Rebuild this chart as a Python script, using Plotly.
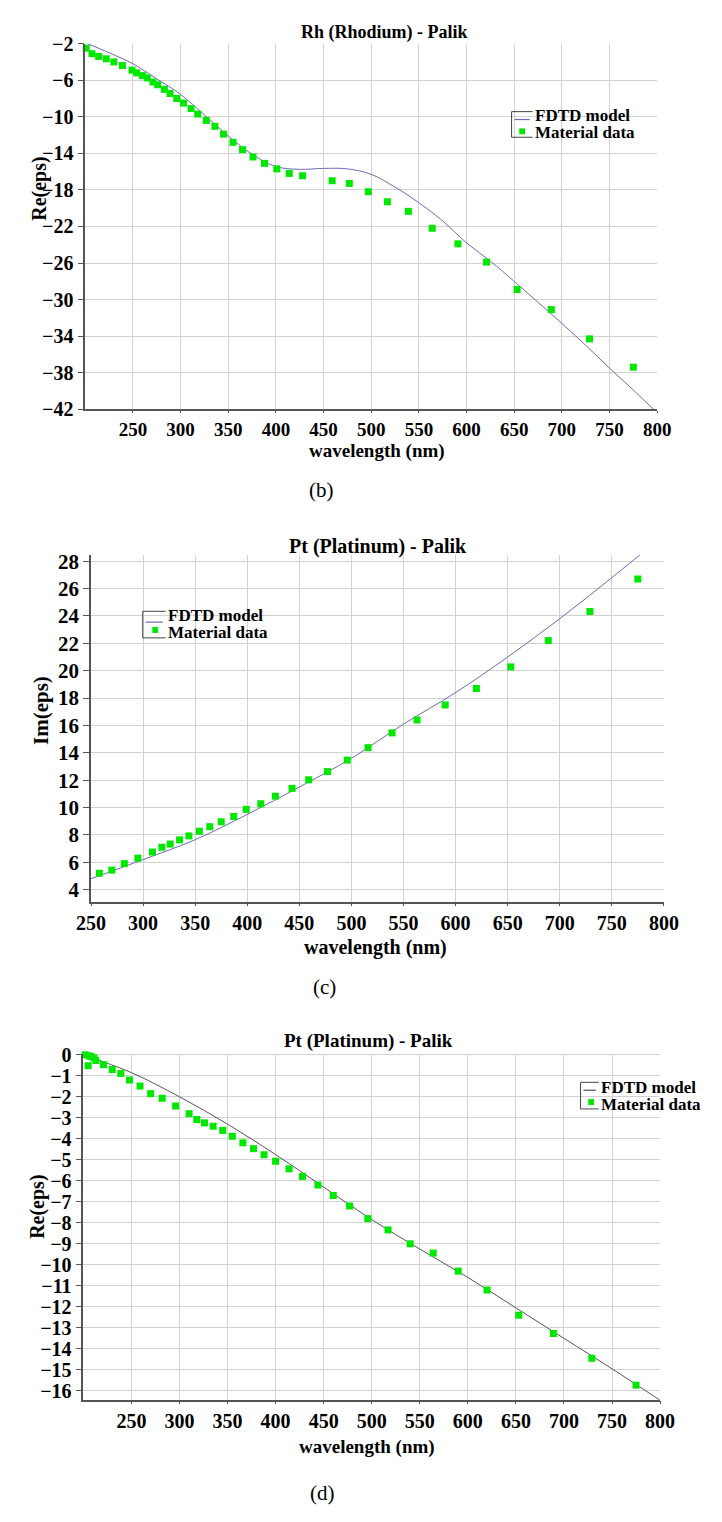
import plotly.graph_objects as go

# (b) Rh (Rhodium) - Palik, Re(eps)
rh_wl = [201, 207, 214, 222, 230, 239, 249, 254, 260, 265, 271, 276, 283, 289, 296, 303, 311, 318, 327, 336,
         345, 355, 365, 376, 388, 401, 414, 428, 459, 477, 497, 517, 539, 564, 591, 621, 653, 689, 729, 775]
rh_re = [-2.5, -3.1, -3.4, -3.66, -4.0, -4.4, -4.9, -5.2, -5.5, -5.75, -6.2, -6.5, -7.0, -7.45, -8.0, -8.5,
         -9.1, -9.7, -10.4, -11.05, -11.9, -12.8, -13.6, -14.4, -15.1, -15.7, -16.2, -16.45, -17.0, -17.3,
         -18.2, -19.3, -20.35, -22.2, -23.9, -25.9, -28.9, -31.1, -34.3, -37.4]
rh_fit_wl = [200, 225, 250, 275, 300, 325, 350, 375, 400, 425, 450, 475, 500, 525, 550, 575, 600, 625,
             650, 675, 700, 725, 750, 775, 800]
rh_fit_re = [-1.9, -3.0, -4.2, -5.85, -7.55, -9.8, -12.1, -14.1, -15.45, -15.75, -15.65, -15.7, -16.3,
             -17.7, -19.4, -21.4, -23.8, -25.8, -28.0, -30.3, -32.6, -35.0, -37.5, -39.9, -42.4]

# (c) Pt (Platinum) - Palik, Im(eps)
pt_im_wl = [258, 270, 282, 295, 309, 318, 326, 335, 344, 354, 364, 375, 387, 399, 413, 427, 443, 459, 477,
            496, 516, 539, 563, 590, 620, 653, 689, 729, 775]
pt_im = [5.2, 5.43, 5.9, 6.3, 6.75, 7.1, 7.33, 7.64, 7.93, 8.27, 8.6, 8.96, 9.35, 9.87, 10.28, 10.83, 11.4,
         12.03, 12.63, 13.47, 14.38, 15.46, 16.4, 17.5, 18.7, 20.28, 22.2, 24.33, 26.7]
pt_im_fit_wl = [250, 300, 350, 400, 450, 500, 550, 600, 650, 700, 750, 800]
pt_im_fit = [4.8, 6.2, 7.65, 9.5, 11.5, 13.6, 16.1, 18.4, 21.0, 23.8, 26.8, 29.9]

# (d) Pt (Platinum) - Palik, Re(eps)
pt_re_wl = [202, 205, 206, 208, 211, 213, 221, 230, 239, 248, 259, 270, 282, 296, 310, 318, 326, 335, 345,
            355, 366, 377, 388, 400, 414, 428, 444, 460, 477, 496, 517, 540, 564, 590, 620, 653, 689, 729, 775]
pt_re = [0.0, -0.52, -0.05, -0.08, -0.15, -0.27, -0.47, -0.7, -0.89, -1.2, -1.49, -1.85, -2.07, -2.44, -2.8,
         -3.08, -3.24, -3.4, -3.6, -3.88, -4.19, -4.47, -4.76, -5.07, -5.43, -5.79, -6.2, -6.7, -7.2, -7.8,
         -8.34, -9.0, -9.44, -10.3, -11.2, -12.4, -13.27, -14.45, -15.73]
pt_re_fit_wl = [200, 250, 300, 350, 400, 450, 500, 550, 600, 650, 700, 750, 800]
pt_re_fit = [0.0, -0.85, -2.0, -3.3, -4.75, -6.3, -7.85, -9.25, -10.6, -12.05, -13.5, -14.95, -16.45]

x_ticks = list(range(250, 801, 50))

# page body has an 8px margin, so the figure is laid out in page pixels minus that offset
OFF = 8
FW, FH = 722 - OFF, 1522 - OFF

SERIF = "Liberation Serif, Times New Roman, DejaVu Serif, serif"
GREEN = "#00e800"
BLUE = "#6b6bb8"
GREY = "#555555"


def px(x):
    return (x - OFF) / FW


def py(y):
    return 1 - (y - OFF) / FH


fig = go.Figure()

panels = [
    (rh_fit_wl, rh_fit_re, rh_wl, rh_re, BLUE, ""),
    (pt_im_fit_wl, pt_im_fit, pt_im_wl, pt_im, BLUE, "2"),
    (pt_re_fit_wl, pt_re_fit, pt_re_wl, pt_re, GREY, "3"),
]
for fx, fy, dx, dy, col, s in panels:
    fig.add_trace(go.Scatter(x=fx, y=fy, mode="lines", name="FDTD model",
                             line=dict(color=col, width=1, shape="spline"),
                             xaxis="x" + s, yaxis="y" + s))
    fig.add_trace(go.Scatter(x=dx, y=dy, mode="markers", name="Material data",
                             marker=dict(color=GREEN, size=7, symbol="square", line=dict(width=0)),
                             cliponaxis=False, xaxis="x" + s, yaxis="y" + s))

tick_font = dict(family=SERIF, size=20, color="black", weight="bold")
common_x = dict(showgrid=True, gridcolor="#d2d2d2", gridwidth=1, showline=True, linecolor=GREY,
                linewidth=1.5, ticks="outside", ticklen=3, tickcolor=GREY, zeroline=False,
                tickfont=tick_font, fixedrange=True)
common_y = dict(showgrid=True, gridcolor="#d2d2d2", gridwidth=1, showline=True, linecolor=GREY,
                linewidth=1.5, ticks="outside", ticklen=6, tickcolor=GREY, zeroline=False,
                tickfont=tick_font, fixedrange=True)

fig.update_layout(
    width=FW, height=FH, margin=dict(l=0, r=0, t=0, b=0),
    paper_bgcolor="white", plot_bgcolor="white", showlegend=False,
    xaxis=dict(common_x, domain=[px(73), px(670)], range=[200, 800], tickvals=x_ticks, anchor="y",
               ticklen=2, tickfont=dict(tick_font, size=19)),
    yaxis=dict(common_y, domain=[py(404), py(33)], range=[-42, -2], tick0=-2, dtick=4, anchor="x"),
    xaxis2=dict(common_x, domain=[px(79), px(677)], range=[250, 800], tickvals=x_ticks, anchor="y2",
                ticklen=2, tickfont=dict(tick_font, size=20)),
    yaxis2=dict(common_y, domain=[py(904), py(552)], range=[3.1, 28.45], tick0=0, dtick=2, anchor="x2",
                tickfont=dict(tick_font, size=21)),
    xaxis3=dict(common_x, domain=[px(71), px(673)], range=[200, 800], tickvals=x_ticks, anchor="y3"),
    yaxis3=dict(common_y, domain=[py(1409), py(1058)], range=[-16.42, 0.05], tick0=0, dtick=1, anchor="x3"),
)

# legends: bracket box, line sample, square sample, two labels
leg_font = dict(family=SERIF, size=17, color="black", weight="bold")
legends = [
    # box x0, x1, y0, y1, line y, marker x, marker y, text x, text y1, text y2, line colour
    (518, 540, 102, 128, 110, 529, 122, 540, 106, 123, BLUE),
    (133, 157, 609, 636, 620, 146, 628, 157, 613, 631, BLUE),
    (590, 609, 1087, 1114, 1095, 601, 1107, 609, 1092, 1109, GREY),
]
for bx0, bx1, by0, by1, ly, mx, my, tx, ty1, ty2, lc in legends:
    fig.add_shape(type="path", xref="paper", yref="paper",
                  path=f"M{px(bx1)},{py(by0)} L{px(bx0)},{py(by0)} L{px(bx0)},{py(by1)} L{px(bx1)},{py(by1)}",
                  line=dict(color="#444444", width=1))
    fig.add_shape(type="line", xref="paper", yref="paper", x0=px(bx0 + 3), x1=px(bx1 - 3),
                  y0=py(ly), y1=py(ly), line=dict(color=lc, width=1.2))
    fig.add_shape(type="rect", xref="paper", yref="paper", x0=px(mx - 3), x1=px(mx + 3),
                  y0=py(my + 3), y1=py(my - 3), fillcolor=GREEN, line=dict(width=0))
    fig.add_annotation(text="FDTD model", x=px(tx), y=py(ty1), xref="paper", yref="paper",
                       showarrow=False, xanchor="left", yanchor="middle", font=leg_font)
    fig.add_annotation(text="Material data", x=px(tx), y=py(ty2), xref="paper", yref="paper",
                       showarrow=False, xanchor="left", yanchor="middle", font=leg_font)

title_font = dict(family=SERIF, size=18, color="black", weight="bold")
axis_font = dict(family=SERIF, size=19, color="black", weight="bold")
label_font = dict(family=SERIF, size=21, color="black")

texts = [
    ("Rh (Rhodium) - Palik", 385, 22, title_font, 0),
    ("Re(eps)", 25, 180, dict(axis_font, size=20), -90),
    ("wavelength (nm)", 378, 446, axis_font, 0),
    ("(b)", 320, 486, label_font, 0),
    ("Pt (Platinum) - Palik", 379, 543, dict(title_font, size=20), 0),
    ("Im(eps)", 27, 710, dict(axis_font, size=21), -90),
    ("wavelength (nm)", 376, 950, dict(axis_font, size=20), 0),
    ("(c)", 323, 990, label_font, 0),
    ("Pt (Platinum) - Palik", 369, 1045, dict(title_font, size=19), 0),
    ("Re(eps)", 23, 1213, dict(axis_font, size=20), -90),
    ("wavelength (nm)", 367, 1457, axis_font, 0),
    ("(d)", 321, 1504, label_font, 0),
]
for t, x, y, f, ang in texts:
    fig.add_annotation(text=t, x=px(x), y=py(y), xref="paper", yref="paper", showarrow=False,
                       xanchor="center", yanchor="middle", font=f, textangle=ang)

fig.write_html("out.html")
